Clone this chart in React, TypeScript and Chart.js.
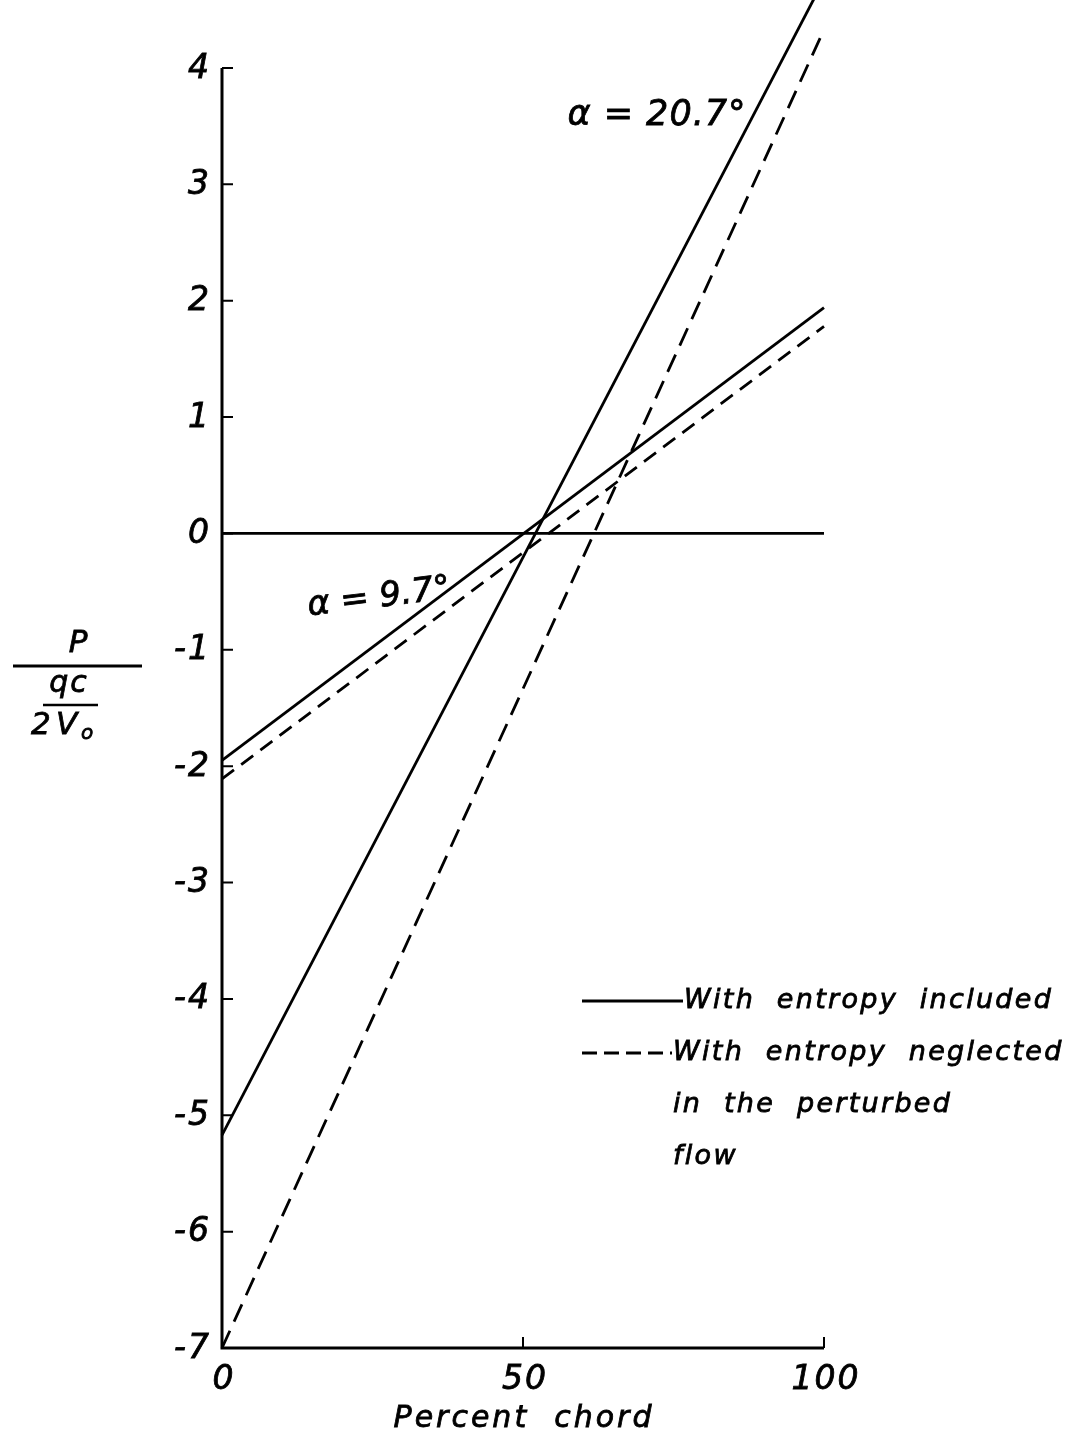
import React, { useEffect, useRef } from "react";
import { Chart, registerables } from "chart.js";

Chart.register(...registerables);

// ---- data ----
const chordPercent = [0, 100];
const solidAlpha207 = [-5.17, 4.76]; // entropy included, alpha = 20.7
const dashedAlpha207 = [-7.0, 4.33]; // entropy neglected, alpha = 20.7
const solidAlpha97 = [-1.95, 1.94]; // entropy included, alpha = 9.7
const dashedAlpha97 = [-2.11, 1.78]; // entropy neglected, alpha = 9.7
const zeroLine = [0, 0];

const yTickValues = [4, 3, 2, 1, 0, -1, -2, -3, -4, -5, -6, -7];
const yTickLabels = ["4", "3", "2", "1", "0", "-1", "-2", "-3", "-4", "-5", "-6", "-7"];
const xTickValues = [0, 50, 100];
const xTickLabels = ["0", "50", "100"];

const xAxisTitle = "Percent  chord";
const label207 = "α = 20.7°";
const label97 = "α = 9.7°";
const legendSolid = ["With  entropy  included"];
const legendDashed = ["With  entropy  neglected", "in  the  perturbed", "flow"];

const FONT = "'DejaVu Sans', 'Liberation Sans', sans-serif";

const toPoints = (ys: number[]) => chordPercent.map((x, i) => ({ x, y: ys[i] }));

function txt(ctx: CanvasRenderingContext2D, s: string, x: number, y: number) {
  ctx.fillText(s, x, y);
  ctx.save();
  ctx.setLineDash([]);
  ctx.lineWidth = 0.8;
  ctx.strokeText(s, x, y);
  ctx.restore();
}

const decorPlugin = {
  id: "decor",
  afterDatasetsDraw(chart: any) {
    const ctx: CanvasRenderingContext2D = chart.ctx;
    const xs = chart.scales.x;
    const ys = chart.scales.y;
    const L = xs.getPixelForValue(0);
    const R = xs.getPixelForValue(100);
    const T = ys.getPixelForValue(4);
    const B = ys.getPixelForValue(-7);
    ctx.save();
    ctx.strokeStyle = "#000";
    ctx.fillStyle = "#000";
    ctx.lineCap = "butt";

    // axes
    ctx.lineWidth = 3;
    ctx.beginPath();
    ctx.moveTo(L, T);
    ctx.lineTo(L, B);
    ctx.lineTo(R, B);
    ctx.stroke();

    // ticks (inside)
    ctx.lineWidth = 2;
    ctx.beginPath();
    yTickValues.forEach((v) => {
      const p = ys.getPixelForValue(v);
      ctx.moveTo(L, p);
      ctx.lineTo(L + 11, p);
    });
    xTickValues.forEach((v) => {
      if (v === 0) return;
      const p = xs.getPixelForValue(v);
      ctx.moveTo(p, B);
      ctx.lineTo(p, B - 11);
    });
    ctx.stroke();

    // tick labels
    ctx.font = `italic 33px ${FONT}`;
    (ctx as any).letterSpacing = "2px";
    ctx.textAlign = "right";
    ctx.textBaseline = "middle";
    yTickValues.forEach((v, i) => {
      txt(ctx, yTickLabels[i], L - 11, ys.getPixelForValue(v) + 1);
    });
    ctx.textAlign = "center";
    xTickValues.forEach((v, i) => {
      txt(ctx, xTickLabels[i], xs.getPixelForValue(v) + 2, B + 32);
    });

    // x axis title
    ctx.font = `italic 30px ${FONT}`;
    (ctx as any).letterSpacing = "3px";
    txt(ctx, xAxisTitle, (L + R) / 2 + 1, B + 71);

    // y axis title (fraction)
    ctx.font = `italic 31px ${FONT}`;
    (ctx as any).letterSpacing = "0px";
    txt(ctx, "P", 78, 644);
    ctx.lineWidth = 3;
    ctx.beginPath();
    ctx.moveTo(13, 666);
    ctx.lineTo(142, 666);
    ctx.stroke();
    ctx.font = `italic 30px ${FONT}`;
    (ctx as any).letterSpacing = "2px";
    txt(ctx, "qc", 69, 684);
    ctx.lineWidth = 2.5;
    ctx.beginPath();
    ctx.moveTo(43, 705);
    ctx.lineTo(98, 705);
    ctx.stroke();
    ctx.textAlign = "left";
    ctx.font = `italic 31px ${FONT}`;
    (ctx as any).letterSpacing = "0px";
    txt(ctx, "2", 31, 726);
    txt(ctx, "V", 56, 726);
    ctx.font = `italic 20px ${FONT}`;
    txt(ctx, "o", 81, 734);

    // curve labels
    ctx.textAlign = "center";
    ctx.font = `italic 35px ${FONT}`;
    (ctx as any).letterSpacing = "1px";
    txt(ctx, label207, 657, 116);
    ctx.save();
    ctx.translate(379, 598);
    ctx.rotate((-7 * Math.PI) / 180);
    ctx.font = `italic 34px ${FONT}`;
    (ctx as any).letterSpacing = "0px";
    txt(ctx, label97, 0, 0);
    ctx.restore();

    // legend
    ctx.lineWidth = 2.8;
    ctx.setLineDash([]);
    ctx.beginPath();
    ctx.moveTo(582, 1001);
    ctx.lineTo(683, 1001);
    ctx.stroke();
    ctx.setLineDash([15, 7]);
    ctx.beginPath();
    ctx.moveTo(582, 1053);
    ctx.lineTo(672, 1053);
    ctx.stroke();
    ctx.setLineDash([]);

    ctx.textAlign = "left";
    ctx.font = `italic 27px ${FONT}`;
    (ctx as any).letterSpacing = "2.3px";
    legendSolid.forEach((t, i) => txt(ctx, t, 684, 1001 + i * 52));
    legendDashed.forEach((t, i) => txt(ctx, t, 673, 1053 + i * 52));

    ctx.restore();
  },
};

export default function App() {
  const ref = useRef<HTMLCanvasElement | null>(null);
  useEffect(() => {
    if (!ref.current) return;
    const common = {
      borderColor: "#000",
      borderWidth: 2.8,
      pointRadius: 0,
      tension: 0,
      clip: false as any,
    };
    const chart = new Chart(ref.current, {
      type: "line",
      data: {
        datasets: [
          { ...common, label: "zero", data: toPoints(zeroLine) },
          { ...common, label: "α = 20.7° included", data: toPoints(solidAlpha207) },
          { ...common, label: "α = 20.7° neglected", data: toPoints(dashedAlpha207), borderDash: [19, 10] },
          { ...common, label: "α = 9.7° included", data: toPoints(solidAlpha97) },
          { ...common, label: "α = 9.7° neglected", data: toPoints(dashedAlpha97), borderDash: [15, 9] },
        ],
      },
      options: {
        responsive: false,
        animation: false,
        layout: { padding: { left: 222, right: 252, top: 68, bottom: 92 } },
        scales: {
          x: { type: "linear", min: 0, max: 100, display: false },
          y: { type: "linear", min: -7, max: 4, display: false },
        },
        plugins: { legend: { display: false }, tooltip: { enabled: false } },
      },
      plugins: [decorPlugin],
    });
    return () => chart.destroy();
  }, []);

  return (
    <div style={{ position: "absolute", left: 0, top: 0, width: 1076, height: 1440, background: "#fff" }}>
      <canvas ref={ref} width={1076} height={1440} style={{ display: "block" }} />
    </div>
  );
}
